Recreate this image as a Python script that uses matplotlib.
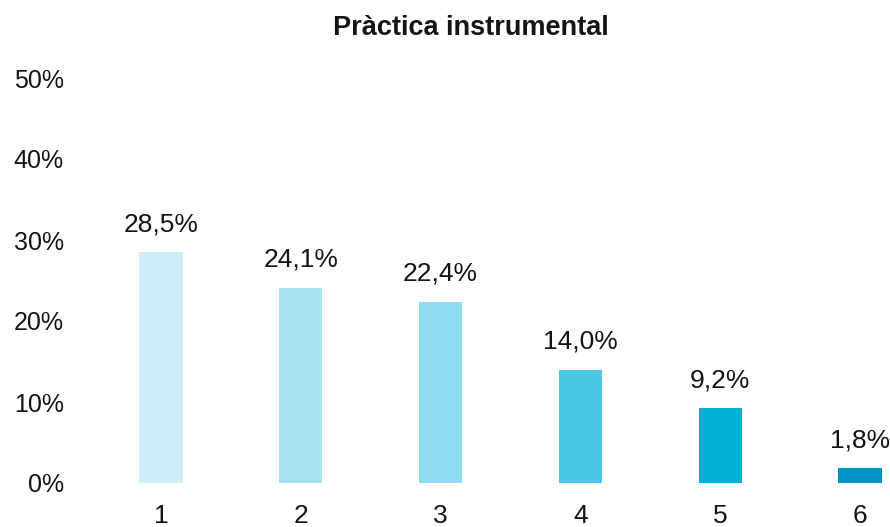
import matplotlib.pyplot as plt
from matplotlib.ticker import FuncFormatter

categories = ['1', '2', '3', '4', '5', '6']
values = [28.5, 24.1, 22.4, 14.0, 9.2, 1.8]
colors = ['#cdeef6', '#a9e3f1', '#8ddcef', '#48c8e3', '#00b3d6', '#0093c4']
yticks = [0, 10, 20, 30, 40, 50]

plt.rcParams['font.family'] = ['Liberation Sans', 'DejaVu Sans']

fig = plt.figure(figsize=(8.9, 5.27), dpi=100)
# axes placed in pixel terms: 0% at y=483, 50% at y=78
ax = fig.add_axes([100 / 890, 44 / 527, 790 / 890, 405 / 527])

x = list(range(1, len(categories) + 1))
ax.bar(x, values, width=0.31, color=colors)

for xi, v in zip(x, values):
    ax.annotate(f"{v:.1f}%".replace('.', ','), (xi, v), xytext=(0, 15),
                textcoords='offset points', ha='center', va='baseline',
                fontsize=19, color='#141414')

ax.set_xlim(0.5637, 6.2146)
ax.set_ylim(0, 50)
ax.set_yticks(yticks)
ax.yaxis.set_major_formatter(FuncFormatter(lambda v, p: f"{v:.0f}%"))
ax.set_xticks(x)
ax.set_xticklabels(categories)
ax.tick_params(axis='both', length=0, labelsize=18, colors='#141414')
ax.tick_params(axis='y', pad=26)
ax.tick_params(axis='x', labelsize=19, pad=15)
for s in ax.spines.values():
    s.set_visible(False)

fig.text(471 / 890, 1 - 28 / 527, 'Pràctica instrumental', ha='center',
         va='center', fontsize=19.5, fontweight='bold', color='#141414')

fig.savefig('out.png', dpi=100)
